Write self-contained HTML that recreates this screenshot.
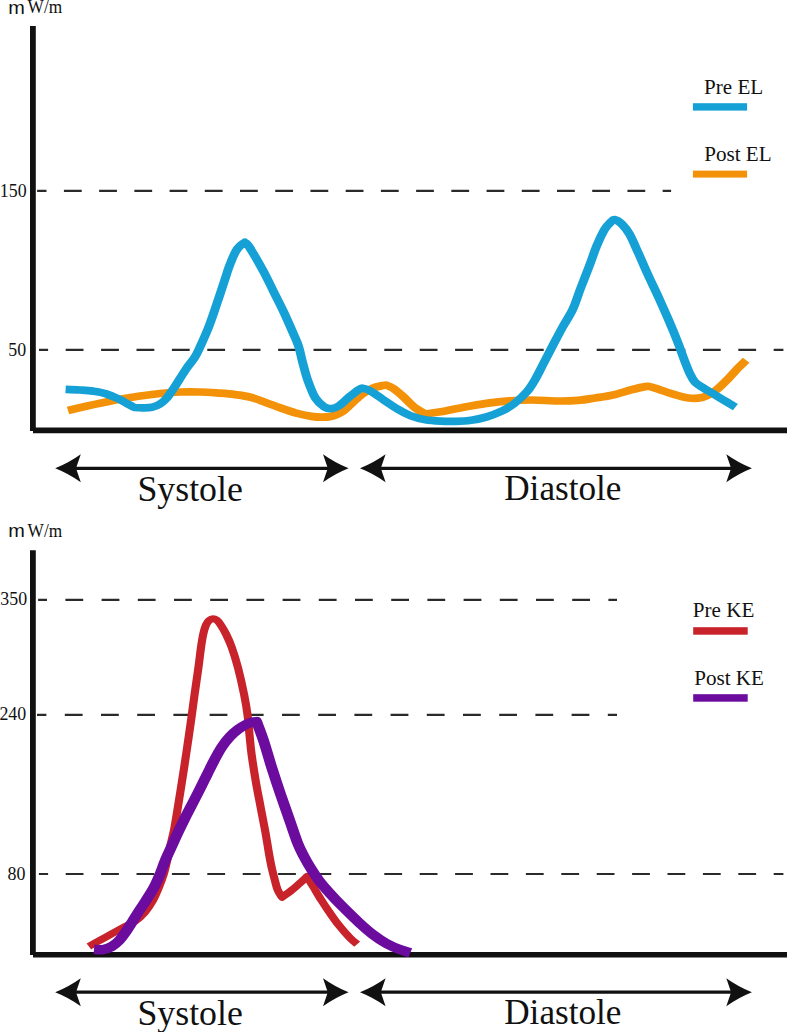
<!DOCTYPE html>
<html><head><meta charset="utf-8"><title>Energy loss and kinetic energy</title>
<style>
html,body{margin:0;padding:0;background:#fff;}
body{width:787px;height:1032px;overflow:hidden;font-family:"Liberation Serif",serif;}
svg{display:block;}
text{font-family:"Liberation Serif",serif;fill:#111;}
.sans{font-family:"Liberation Sans",sans-serif;}
</style></head><body>
<svg width="787" height="1032" viewBox="0 0 787 1032">
<rect width="787" height="1032" fill="#fff"/>
<!-- TOP CHART -->
<text x="8.3" y="13.5" font-size="18.7" class="sans" textLength="16.6" lengthAdjust="spacingAndGlyphs">m</text><text x="27.6" y="13.4" font-size="18.8" textLength="34.6" lengthAdjust="spacingAndGlyphs">W/m</text>
<g stroke="#2a2a2a" stroke-width="2.2" fill="none">
<path d="M37.1 190.8H671.1" stroke-dasharray="17.8 17.42" stroke-dashoffset="8.4"/>
<path d="M39 349.9H783.4" stroke-dasharray="17.8 17.6" stroke-dashoffset="8.7"/>
</g>
<path d="M32.9 26V431" stroke="#111" stroke-width="5.8" fill="none"/>
<path d="M33 430.4H787" stroke="#111" stroke-width="5.8" fill="none"/>
<text x="-0.2" y="196.5" font-size="18" textLength="26.8" lengthAdjust="spacingAndGlyphs">150</text>
<text x="8.3" y="355.8" font-size="18" textLength="17.9" lengthAdjust="spacingAndGlyphs">50</text>
<g transform="scale(1.15,1)"><path d="M59.13 410.5C61.59 409.8 69.28 407.7 73.91 406.5C78.55 405.3 81.88 404.4 86.96 403.2C92.03 402.0 98.55 400.4 104.35 399.2C110.14 398.0 115.94 396.9 121.74 396.0C127.54 395.1 133.33 394.2 139.13 393.5C144.93 392.8 150.72 392.2 156.52 392.0C162.32 391.8 168.12 391.8 173.91 392.0C179.71 392.2 186.20 392.8 191.30 393.2C196.41 393.6 200.10 393.9 204.52 394.6C208.94 395.3 213.41 395.9 217.83 397.2C222.25 398.5 226.62 400.7 231.04 402.5C235.46 404.3 239.93 406.3 244.35 408.1C248.77 409.9 253.14 411.7 257.57 413.1C261.99 414.5 267.17 415.7 270.87 416.4C274.57 417.1 276.80 417.2 279.74 417.2C282.68 417.2 285.58 417.1 288.52 416.2C291.46 415.3 294.45 414.1 297.39 411.9C300.33 409.7 303.23 406.0 306.17 403.0C309.12 400.0 312.09 396.6 315.04 394.1C318.00 391.6 320.97 389.6 323.91 388.2C326.86 386.8 330.62 386.1 332.70 385.6C334.77 385.1 334.84 384.9 336.35 385.3C337.86 385.8 339.33 386.4 341.74 388.3C344.14 390.2 347.77 393.7 350.78 396.8C353.80 399.9 356.65 403.9 359.83 406.8C363.00 409.7 368.16 412.8 369.83 414.0C372.06 413.6 377.68 412.9 383.22 411.8C388.75 410.7 396.42 408.7 403.04 407.3C409.67 405.9 416.32 404.5 422.96 403.4C429.59 402.3 436.25 401.4 442.87 400.8C449.49 400.2 455.70 400.0 462.70 400.0C469.70 400.0 478.23 400.9 484.87 401.0C491.51 401.1 497.07 400.9 502.52 400.4C507.97 399.9 512.48 398.9 517.57 398.0C522.65 397.1 527.78 396.4 533.04 395.0C538.30 393.6 544.49 391.2 549.13 389.8C553.77 388.4 558.13 387.1 560.87 386.6C563.61 386.1 563.57 386.2 565.57 386.7C567.57 387.1 569.45 388.0 572.87 389.3C576.29 390.6 582.04 393.0 586.09 394.4C590.13 395.8 593.62 397.1 597.13 397.7C600.64 398.3 604.17 398.5 607.13 398.2C610.09 397.9 612.12 397.2 614.87 395.7C617.62 394.2 620.65 392.1 623.65 389.3C626.65 386.6 629.83 382.8 632.87 379.2C635.91 375.6 639.25 371.1 641.91 367.9C644.58 364.7 647.71 361.5 648.87 360.2" stroke="#f39208" stroke-width="7.7" fill="none" stroke-linejoin="round"/>
<path d="M57.04 389.3C59.13 389.4 65.59 389.7 69.57 390.0C73.54 390.3 77.17 390.5 80.87 391.1C84.57 391.7 87.97 392.2 91.74 393.6C95.51 395.0 100.17 397.4 103.48 399.2C106.78 401.0 109.35 402.9 111.57 404.3C113.78 405.7 115.91 407.0 116.78 407.5C118.04 407.6 121.78 407.8 124.35 407.8C126.91 407.8 129.74 407.9 132.17 407.3C134.61 406.7 136.84 405.7 138.96 404.2C141.07 402.7 142.77 401.1 144.87 398.3C146.97 395.5 149.43 391.1 151.57 387.5C153.70 383.9 155.78 379.9 157.65 376.5C159.52 373.1 160.81 370.6 162.78 367.4C164.75 364.2 167.62 360.6 169.48 357.2C171.33 353.8 171.90 352.1 173.91 347.0C175.93 341.9 179.13 333.9 181.57 326.7C184.00 319.5 186.26 311.5 188.52 303.9C190.78 296.3 193.36 287.1 195.13 281.0C196.90 274.9 197.52 271.9 199.13 267.0C200.74 262.1 203.12 255.4 204.78 251.8C206.45 248.2 207.80 247.1 209.13 245.5C210.46 243.9 212.17 242.9 212.78 242.4C213.41 243.1 213.84 241.8 216.52 246.5C219.20 251.2 225.33 263.4 228.87 270.8C232.41 278.2 234.80 284.4 237.74 291.2C240.68 298.0 243.58 304.3 246.52 311.5C249.46 318.7 253.17 328.5 255.39 334.4C257.61 340.3 258.54 342.4 259.83 347.0C261.12 351.6 261.84 356.8 263.13 362.3C264.42 367.8 265.72 374.2 267.57 380.1C269.41 386.0 271.78 393.4 274.17 397.9C276.57 402.3 279.52 405.0 281.91 406.8C284.30 408.6 286.32 408.8 288.52 408.6C290.72 408.4 292.55 407.5 295.13 405.5C297.71 403.5 301.23 399.2 304.00 396.6C306.77 394.0 309.83 391.2 311.74 389.8C313.65 388.4 313.83 388.0 315.48 388.2C317.13 388.4 318.78 389.0 321.65 390.8C324.52 392.6 328.64 396.1 332.70 399.2C336.75 402.3 341.94 406.6 346.00 409.3C350.06 412.1 353.06 413.9 357.04 415.7C361.03 417.4 365.55 418.9 369.91 419.8C374.28 420.7 378.80 420.9 383.22 421.1C387.64 421.4 392.01 421.4 396.43 421.3C400.86 421.2 405.32 421.0 409.74 420.3C414.16 419.6 418.54 418.5 422.96 417.0C427.38 415.5 432.20 413.4 436.26 411.2C440.32 408.9 443.62 406.8 447.30 403.5C450.99 400.2 455.33 395.5 458.35 391.5C461.36 387.5 463.14 383.8 465.39 379.4C467.64 375.0 469.32 370.8 471.83 365.2C474.33 359.6 477.54 352.5 480.43 346.1C483.33 339.8 486.28 333.2 489.22 327.1C492.16 321.0 495.51 315.7 498.09 309.3C500.67 302.9 502.30 296.1 504.70 288.9C507.09 281.7 510.06 273.3 512.43 266.1C514.81 258.9 516.72 251.8 518.96 245.7C521.19 239.5 523.84 233.1 525.83 229.2C527.81 225.3 529.45 224.0 530.87 222.4C532.29 220.8 532.70 219.3 534.35 219.6C536.00 219.9 538.59 221.6 540.78 224.1C542.97 226.6 545.07 229.4 547.48 234.3C549.88 239.2 552.46 246.4 555.22 253.4C557.97 260.4 561.06 268.8 564.00 276.2C566.94 283.6 569.93 290.4 572.87 297.8C575.81 305.2 578.90 313.3 581.65 320.7C584.41 328.1 587.17 335.8 589.39 342.3C591.61 348.8 593.14 354.3 594.96 359.7C596.77 365.1 598.72 370.9 600.26 374.6C601.80 378.3 602.65 379.8 604.17 381.8C605.70 383.8 607.42 384.9 609.39 386.4C611.36 387.9 612.88 388.8 616.00 390.9C619.12 393.0 624.17 396.6 628.09 399.3C632.00 402.0 637.58 405.8 639.48 407.1" stroke="#15a1d5" stroke-width="7.7" fill="none" stroke-linejoin="round"/></g>
<text x="704" y="93.6" font-size="21.1">Pre EL</text>
<rect x="692.9" y="103.2" width="54.2" height="7.4" fill="#15a1d5"/>
<text x="704.2" y="160.9" font-size="21.1">Post EL</text>
<rect x="692.9" y="170.6" width="54.2" height="7" fill="#f39208"/>
<path d="M74 468.3H330M379 468.3H733" stroke="#111" stroke-width="3.2" fill="none"/><path d="M55.2 468.3Q68.7 462.9 80.8 454.3L76.0 468.3L80.8 482.3Q68.7 473.7 55.2 468.3ZM348.6 468.3Q335.1 462.9 323.0 454.3L327.8 468.3L323.0 482.3Q335.1 473.7 348.6 468.3ZM360.0 468.3Q373.5 462.9 385.6 454.3L380.8 468.3L385.6 482.3Q373.5 473.7 360.0 468.3ZM751.9 468.3Q738.4 462.9 726.3 454.3L731.1 468.3L726.3 482.3Q738.4 473.7 751.9 468.3Z" fill="#111"/>
<text x="137.4" y="500.7" font-size="35.8">Systole</text>
<text x="504.2" y="500.3" font-size="35.2">Diastole</text>
<!-- BOTTOM CHART -->
<text x="8.3" y="537.1" font-size="18.7" class="sans" textLength="16.6" lengthAdjust="spacingAndGlyphs">m</text><text x="27.6" y="537" font-size="18.8" textLength="34.6" lengthAdjust="spacingAndGlyphs">W/m</text>
<g stroke="#2a2a2a" stroke-width="2.2" fill="none">
<path d="M38.1 599.9H617" stroke-dasharray="17.8 18.4" stroke-dashoffset="8.9"/>
<path d="M37 714.9H617" stroke-dasharray="17.8 18.4" stroke-dashoffset="8.4"/>
<path d="M38.9 874H783.4" stroke-dasharray="17.8 17.6" stroke-dashoffset="8.6"/>
</g>
<path d="M32.9 550.3V955" stroke="#111" stroke-width="5.8" fill="none"/>
<path d="M33 954.8H787" stroke="#111" stroke-width="5.6" fill="none"/>
<text x="0.3" y="604.7" font-size="18" textLength="26.8" lengthAdjust="spacingAndGlyphs">350</text>
<text x="-0.6" y="720" font-size="18" textLength="26.8" lengthAdjust="spacingAndGlyphs">240</text>
<text x="7.6" y="879.7" font-size="18" textLength="17.9" lengthAdjust="spacingAndGlyphs">80</text>
<g transform="scale(1.15,1)"><path d="M77.30 946.5C78.78 945.5 82.86 942.9 86.17 940.8C89.49 938.7 93.72 936.0 97.22 933.8C100.71 931.6 103.77 929.6 107.13 927.5C110.49 925.4 114.23 923.9 117.39 921.3C120.55 918.7 123.54 915.4 126.09 912.0C128.64 908.6 130.72 905.0 132.70 901.0C134.67 897.0 136.30 892.5 137.91 888.0C139.52 883.5 141.12 878.8 142.35 874.3C143.58 869.8 144.39 865.2 145.30 860.7C146.22 856.2 146.78 852.5 147.83 847.1C148.87 841.7 150.29 836.1 151.57 828.5C152.84 820.9 154.20 810.4 155.48 801.4C156.75 792.4 158.00 783.3 159.22 774.3C160.43 765.2 161.58 756.5 162.78 747.1C163.99 737.7 165.38 726.7 166.43 718.0C167.49 709.3 168.12 703.4 169.13 695.0C170.14 686.6 171.58 675.7 172.52 667.8C173.46 659.9 174.07 653.1 174.78 647.5C175.49 641.9 176.06 637.6 176.78 633.9C177.51 630.1 178.26 627.3 179.13 625.0C180.00 622.7 181.00 621.3 182.00 620.3C183.00 619.2 184.04 618.7 185.13 618.7C186.22 618.7 187.41 619.2 188.52 620.2C189.64 621.2 190.49 622.5 191.83 624.8C193.16 627.1 194.90 630.2 196.52 634.0C198.14 637.8 199.83 641.9 201.57 647.5C203.30 653.1 205.16 659.9 206.96 667.8C208.75 675.7 210.96 687.1 212.35 695.0C213.74 702.9 214.52 708.5 215.30 715.3C216.09 722.1 216.46 729.2 217.04 735.7C217.62 742.2 217.88 746.7 218.78 754.3C219.68 761.9 221.16 772.8 222.43 781.4C223.71 790.0 225.10 797.9 226.43 806.0C227.77 814.1 229.45 823.9 230.43 830.0C231.42 836.1 231.72 838.5 232.35 842.7C232.97 846.9 233.51 851.2 234.17 855.4C234.84 859.6 235.52 863.9 236.35 868.1C237.17 872.3 238.29 877.2 239.13 880.8C239.97 884.4 240.38 887.0 241.39 889.7C242.41 892.5 244.58 896.0 245.22 897.3C246.48 896.2 250.42 893.1 252.78 891.0C255.14 888.9 257.38 886.6 259.39 884.6C261.41 882.6 263.62 880.3 264.87 878.9C266.12 877.5 266.54 876.8 266.87 876.4C267.83 878.2 270.54 883.3 272.61 887.2C274.68 891.1 277.09 895.9 279.30 899.9C281.52 903.9 283.35 907.1 285.91 911.3C288.48 915.5 291.65 920.9 294.70 925.3C297.74 929.7 301.54 934.6 304.17 937.8C306.81 940.9 309.46 943.1 310.52 944.2" stroke="#c8232a" stroke-width="7.1" fill="none" stroke-linejoin="round"/>
<path d="M81.74 949.3C83.03 949.4 86.90 950.2 89.48 949.7C92.06 949.2 94.83 948.1 97.22 946.5C99.61 944.9 101.81 942.6 103.83 940.2C105.84 937.8 107.45 934.9 109.30 931.9C111.16 928.9 113.07 925.4 114.96 922.0C116.84 918.6 118.61 915.1 120.61 911.5C122.61 907.9 124.77 904.5 126.96 900.5C129.14 896.5 131.71 892.2 133.74 887.8C135.77 883.4 137.48 878.8 139.13 874.3C140.78 869.8 142.01 865.2 143.65 860.7C145.29 856.2 147.19 851.6 148.96 847.1C150.72 842.6 152.28 838.5 154.26 833.6C156.25 828.8 158.52 823.4 160.87 818.0C163.22 812.6 166.10 806.4 168.35 801.4C170.59 796.4 172.38 792.3 174.35 787.8C176.32 783.3 178.22 778.8 180.17 774.3C182.13 769.8 184.01 765.2 186.09 760.7C188.16 756.2 190.35 751.5 192.61 747.5C194.87 743.5 197.25 740.0 199.65 737.0C202.06 734.0 204.62 731.5 207.04 729.4C209.46 727.3 212.09 725.5 214.17 724.3C216.26 723.1 218.07 722.5 219.57 722.0C221.06 721.5 222.54 721.7 223.13 721.6C224.14 724.8 227.01 733.0 229.22 740.7C231.42 748.4 233.86 758.8 236.35 767.8C238.84 776.8 241.49 786.0 244.17 795.0C246.86 804.0 249.97 814.0 252.43 822.1C254.90 830.2 257.06 838.0 258.96 843.5C260.86 849.0 261.97 851.3 263.83 855.4C265.68 859.5 267.80 863.9 270.09 868.1C272.38 872.3 274.75 876.6 277.57 880.8C280.38 885.0 283.64 889.3 286.96 893.5C290.28 897.7 293.29 901.4 297.48 906.2C301.67 911.0 307.65 917.8 312.09 922.5C316.52 927.2 320.10 930.9 324.09 934.4C328.07 937.9 332.03 941.0 336.00 943.5C339.97 946.0 344.43 948.2 347.91 949.7C351.39 951.2 355.38 952.2 356.87 952.7" stroke="#6b0c9f" stroke-width="9.5" fill="none" stroke-linejoin="round"/></g>
<text x="692.8" y="617.4" font-size="21.1">Pre KE</text>
<rect x="693.2" y="627.2" width="54.5" height="7.5" fill="#c8232a"/>
<text x="694.2" y="684.7" font-size="21.1">Post KE</text>
<rect x="693.2" y="694.2" width="54.5" height="7.5" fill="#6b0c9f"/>
<path d="M74 992.2H330M379 992.2H733" stroke="#111" stroke-width="3.2" fill="none"/><path d="M55.2 992.2Q68.7 986.8 80.8 978.2L76.0 992.2L80.8 1006.2Q68.7 997.6 55.2 992.2ZM348.6 992.2Q335.1 986.8 323.0 978.2L327.8 992.2L323.0 1006.2Q335.1 997.6 348.6 992.2ZM360.0 992.2Q373.5 986.8 385.6 978.2L380.8 992.2L385.6 1006.2Q373.5 997.6 360.0 992.2ZM751.9 992.2Q738.4 986.8 726.3 978.2L731.1 992.2L726.3 1006.2Q738.4 997.6 751.9 992.2Z" fill="#111"/>
<text x="137.4" y="1024.5" font-size="35.8">Systole</text>
<text x="504.2" y="1024.2" font-size="35.2">Diastole</text>
</svg>
</body></html>
